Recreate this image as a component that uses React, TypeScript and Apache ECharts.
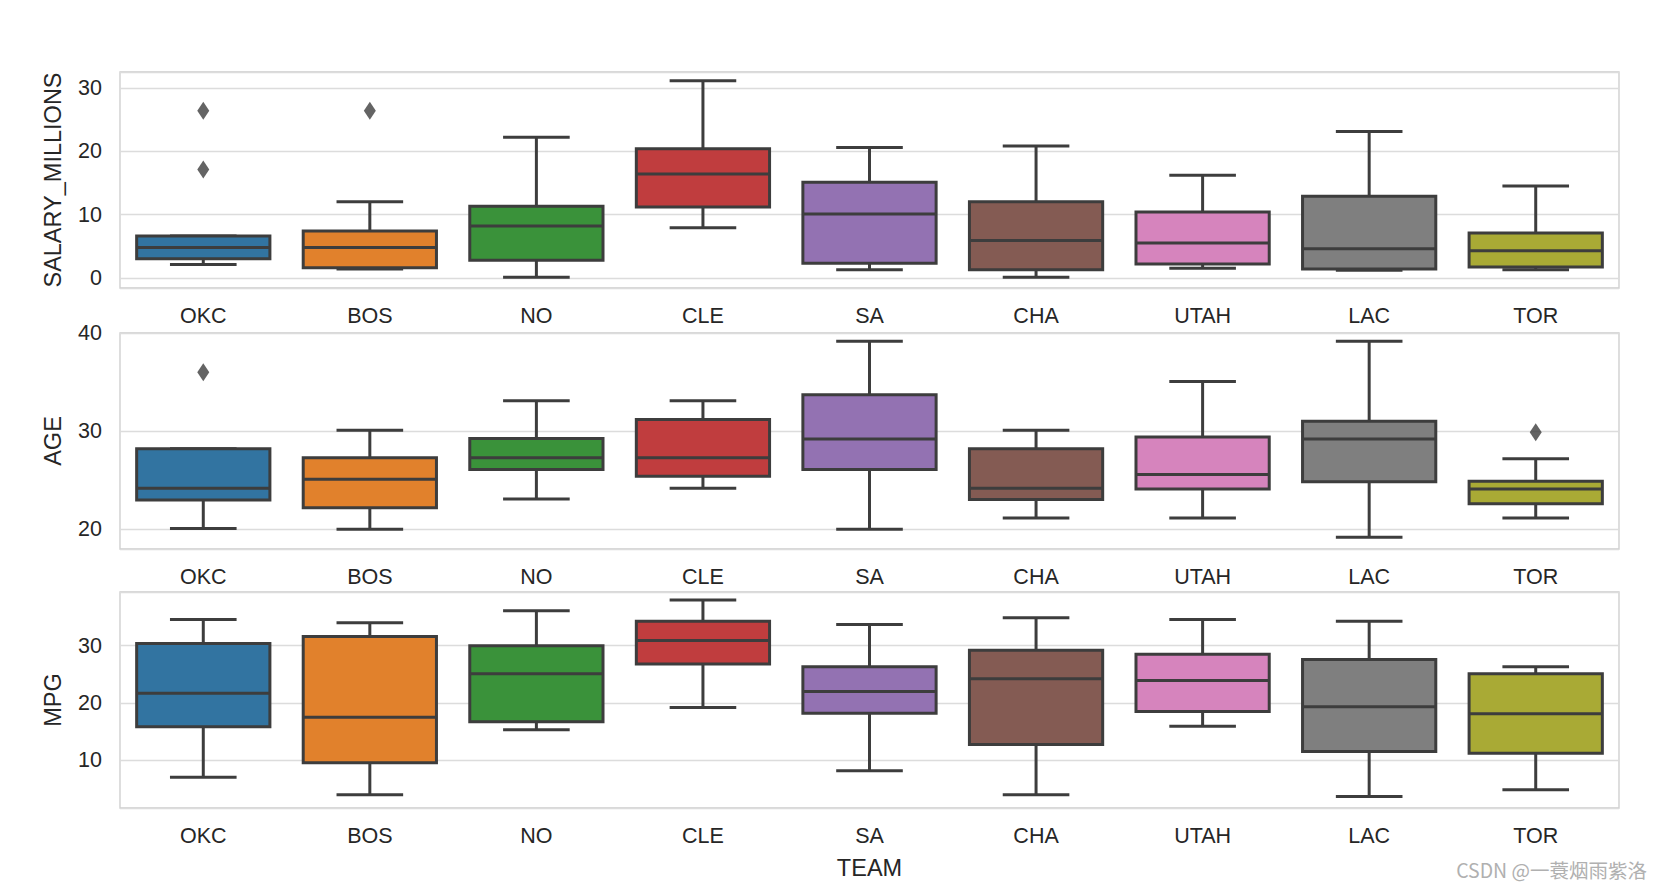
import React, { useEffect, useRef } from "react";
import * as echarts from "echarts";

const teams = ["OKC", "BOS", "NO", "CLE", "SA", "CHA", "UTAH", "LAC", "TOR"];

// SALARY_MILLIONS
const salaryLow = [2.1, 1.4, 0.1, 7.9, 1.3, 0.1, 1.5, 1.2, 1.3];
const salaryQ1 = [3.0, 1.6, 2.8, 11.2, 2.3, 1.3, 2.2, 1.4, 1.7];
const salaryMedian = [4.8, 4.8, 8.2, 16.4, 10.1, 5.9, 5.5, 4.6, 4.3];
const salaryQ3 = [6.6, 7.4, 11.3, 20.4, 15.1, 12.0, 10.4, 12.9, 7.1];
const salaryHigh = [6.6, 12.0, 22.2, 31.1, 20.6, 20.8, 16.2, 23.1, 14.5];
const salaryOutliers = [[0, 26.4], [0, 17.1], [1, 26.4]];

// AGE
const ageLow = [20.1, 20.0, 23.1, 24.2, 20.0, 21.15, 21.15, 19.2, 21.15];
const ageQ1 = [23.0, 22.2, 26.1, 25.4, 26.1, 23.05, 24.1, 24.85, 22.6];
const ageMedian = [24.2, 25.1, 27.3, 27.3, 29.2, 24.2, 25.6, 29.2, 24.1];
const ageQ3 = [28.2, 27.3, 29.25, 31.2, 33.7, 28.2, 29.4, 31.0, 24.9];
const ageHigh = [28.2, 30.1, 33.1, 33.1, 39.15, 30.1, 35.05, 39.15, 27.2];
const ageOutliers = [[0, 36.0], [8, 29.9]];

// MPG
const mpgLow = [7.0, 3.9, 15.3, 19.2, 8.1, 3.9, 15.9, 3.6, 4.8];
const mpgQ1 = [15.8, 9.5, 16.7, 26.8, 18.2, 12.7, 18.5, 11.5, 11.2];
const mpgMedian = [21.7, 17.5, 25.1, 30.9, 22.0, 24.2, 23.9, 19.3, 18.1];
const mpgQ3 = [30.4, 31.6, 30.0, 34.3, 26.3, 29.2, 28.5, 27.6, 25.1];
const mpgHigh = [34.6, 34.0, 36.1, 38.0, 33.7, 34.9, 34.6, 34.3, 26.3];
const mpgOutliers: number[][] = [];

const palette = ["#3274a1", "#e1812c", "#3a923a", "#c03d3e", "#9372b2", "#845b53", "#d684bd", "#7f7f7f", "#a9aa35"];
const EDGE = "#3d3d3d";
const LW = 3;
const FONT = "'Liberation Sans', Arial, sans-serif";
const TXT = "#262626";

function boxData(low: number[], q1: number[], med: number[], q3: number[], high: number[]) {
  return teams.map((_, i) => [i, low[i], q1[i], med[i], q3[i], high[i]]);
}

function renderBox(params: any, api: any) {
  const i = api.value(0);
  const low = api.coord([i, api.value(1)]);
  const q1 = api.coord([i, api.value(2)]);
  const med = api.coord([i, api.value(3)]);
  const q3 = api.coord([i, api.value(4)]);
  const high = api.coord([i, api.value(5)]);
  const band = api.size([1, 0])[0];
  const bw = band * 0.8;
  const cx = low[0];
  const ls = { stroke: EDGE, lineWidth: LW, fill: null };
  return {
    type: "group",
    children: [
      { type: "line", shape: { x1: cx, y1: q3[1], x2: cx, y2: high[1] }, style: ls },
      { type: "line", shape: { x1: cx, y1: q1[1], x2: cx, y2: low[1] }, style: ls },
      { type: "line", shape: { x1: cx - bw / 4, y1: high[1], x2: cx + bw / 4, y2: high[1] }, style: ls },
      { type: "line", shape: { x1: cx - bw / 4, y1: low[1], x2: cx + bw / 4, y2: low[1] }, style: ls },
      {
        type: "rect",
        shape: { x: cx - bw / 2, y: q3[1], width: bw, height: q1[1] - q3[1] },
        style: { fill: palette[i], stroke: EDGE, lineWidth: LW },
      },
      { type: "line", shape: { x1: cx - bw / 2, y1: med[1], x2: cx + bw / 2, y2: med[1] }, style: ls },
    ],
  };
}

const panels = [
  { name: "SALARY_MILLIONS", min: -1.6, max: 32.5, top: 72, data: boxData(salaryLow, salaryQ1, salaryMedian, salaryQ3, salaryHigh), outliers: salaryOutliers },
  { name: "AGE", min: 18, max: 40, top: 333, data: boxData(ageLow, ageQ1, ageMedian, ageQ3, ageHigh), outliers: ageOutliers },
  { name: "MPG", min: 1.6, max: 39.4, top: 592, data: boxData(mpgLow, mpgQ1, mpgMedian, mpgQ3, mpgHigh), outliers: mpgOutliers },
];

export default function App() {
  const ref = useRef<HTMLDivElement>(null);
  useEffect(() => {
    if (!ref.current) return;
    const chart = echarts.init(ref.current, null, { renderer: "svg" });
    const option: any = {
      animation: false,
      backgroundColor: "#ffffff",
      grid: panels.map((p) => ({
        left: 120,
        right: 43,
        top: p.top,
        height: 216,
        show: true,
        borderColor: "#cccccc",
        borderWidth: 1.3,
        backgroundColor: "transparent",
      })),
      xAxis: panels.map((p, k) => ({
        type: "category",
        gridIndex: k,
        data: teams,
        axisLine: { show: false },
        axisTick: { show: false },
        splitLine: { show: false },
        axisLabel: { fontSize: 21.5, color: TXT, fontFamily: FONT, margin: 17 },
        name: k === 2 ? "TEAM" : "",
        nameLocation: "middle",
        nameGap: 48,
        nameTextStyle: { fontSize: 23.5, color: TXT, fontFamily: FONT },
      })),
      yAxis: panels.map((p, k) => ({
        type: "value",
        gridIndex: k,
        min: p.min,
        max: p.max,
        splitNumber: 3,
        minInterval: 10,
        maxInterval: 10,
        axisLine: { show: false },
        axisTick: { show: false },
        splitLine: { show: true, lineStyle: { color: "#dcdcdc", width: 1.3 } },
        axisLabel: {
          fontSize: 21.5,
          color: TXT,
          fontFamily: FONT,
          margin: 18,
          showMinLabel: true,
          showMaxLabel: true,
          formatter: (v: number) => (Math.abs(v % 10) < 1e-9 ? String(v) : ""),
        },
        name: p.name,
        nameLocation: "middle",
        nameGap: 55,
        nameRotate: 90,
        nameTextStyle: { fontSize: 23.5, color: TXT, fontFamily: FONT },
      })),
      series: [
        ...panels.map((p, k) => ({
          type: "custom",
          xAxisIndex: k,
          yAxisIndex: k,
          data: p.data,
          encode: { x: 0, y: [1, 2, 3, 4, 5] },
          renderItem: renderBox,
          silent: true,
        })),
        ...panels.map((p, k) => ({
          type: "scatter",
          xAxisIndex: k,
          yAxisIndex: k,
          data: p.outliers,
          symbol: "diamond",
          symbolSize: [12, 18],
          itemStyle: { color: EDGE },
          silent: true,
        })),
      ],
      graphic: [
        {
          type: "text",
          right: 15,
          bottom: 8,
          style: {
            text: "CSDN @一蓑烟雨紫洛",
            fontSize: 19.5,
            fill: "#b0b0b0",
            fontFamily: "'Noto Sans CJK SC', sans-serif",
          },
        },
      ],
    };
    chart.setOption(option);
    return () => chart.dispose();
  }, []);
  return (
    <div
      ref={ref}
      style={{ position: "fixed", left: 0, top: 0, width: 1662, height: 887, background: "#fff" }}
    />
  );
}
